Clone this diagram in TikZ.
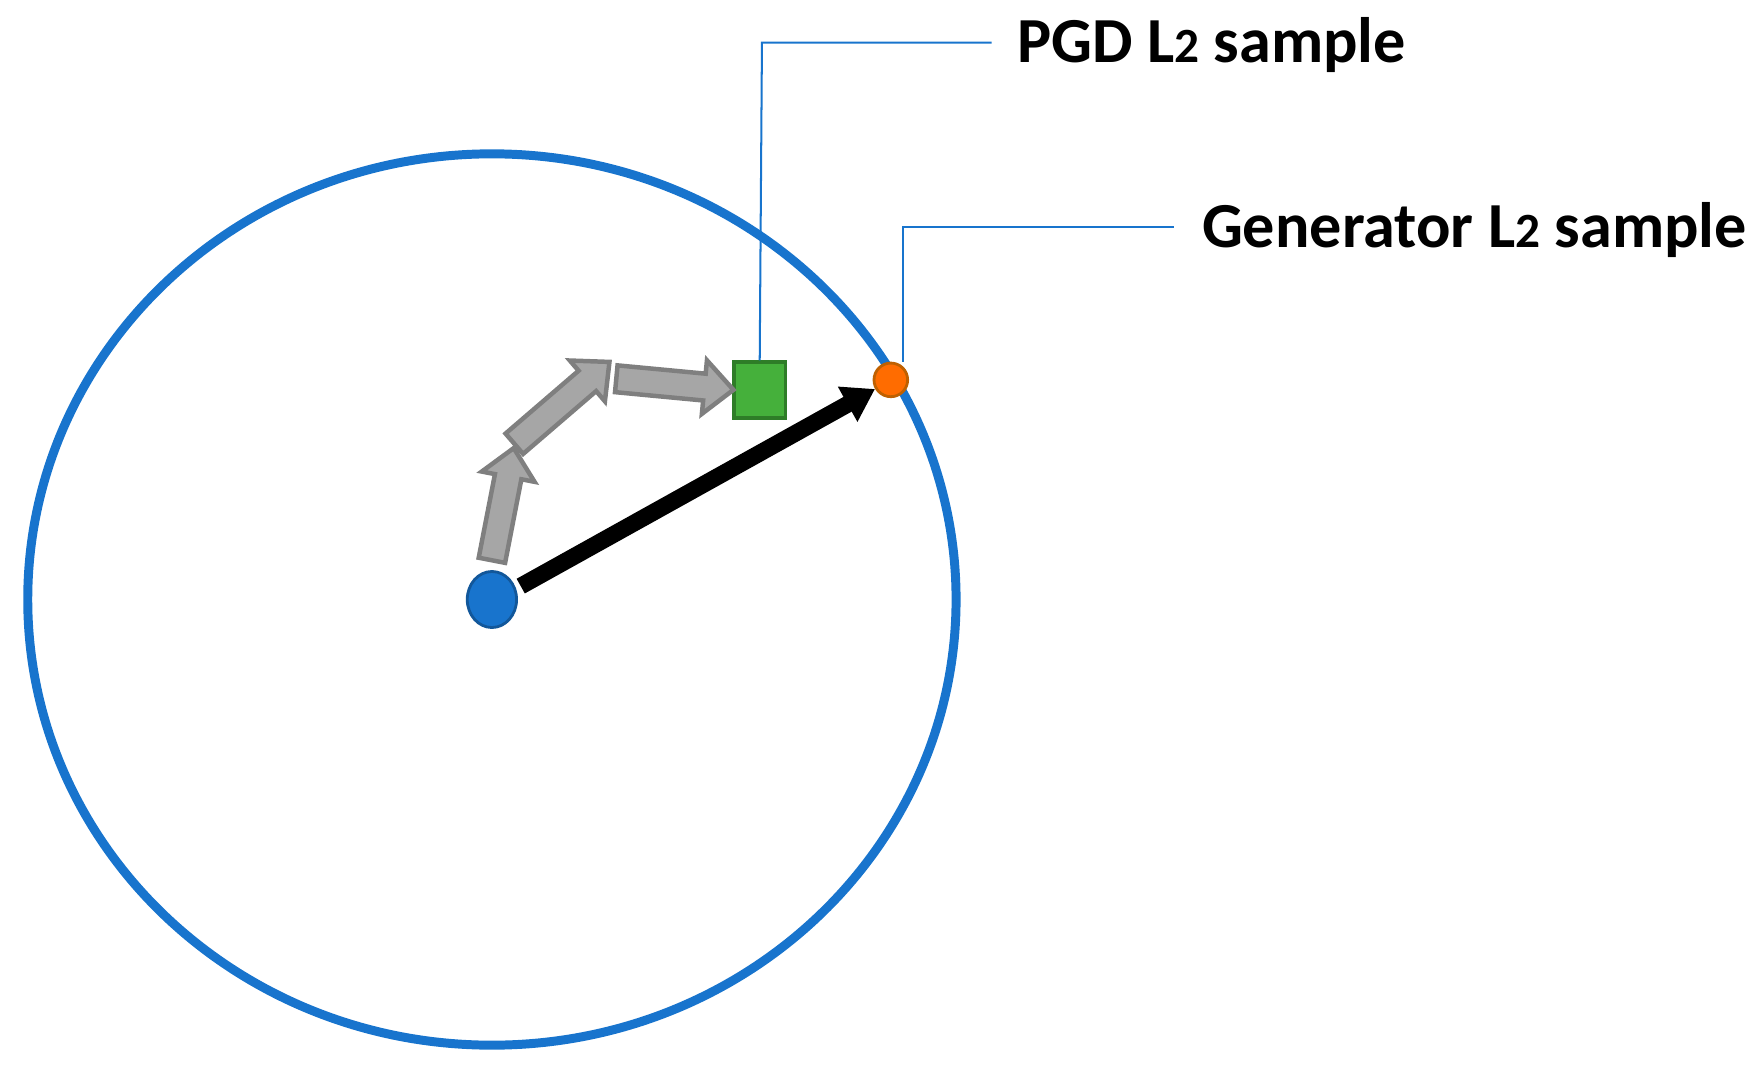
\documentclass[tikz,border=0pt]{standalone}
\usepackage{fontspec}
\setmainfont{Carlito}
\usetikzlibrary{shapes.geometric,arrows.meta}
\definecolor{cblue}{HTML}{1874CD}
\definecolor{gfill}{HTML}{A6A6A6}
\definecolor{gline}{HTML}{7F7F7F}
\definecolor{gsq}{HTML}{45B03B}
\definecolor{gsqd}{HTML}{2E7D27}
\tikzset{
 grayarrow/.style={draw=gline, fill=gfill, line width=0.04cm},
 callout/.style={draw=cblue, line width=0.018cm},
 lbl/.style={anchor=west, font=\bfseries\fontsize{16.3}{19}\selectfont, inner sep=0pt}
}
\newcommand{\Ltwo}{L{\fontsize{12.5}{14}\selectfont 2}}
\newcommand{\fatarrow}[4]{% x, y, angle, length
 \begin{scope}[shift={(#1,#2)}, rotate=#3]
 \draw[grayarrow] (0,-12) -- (#4-26,-12) -- (#4-26,-24) -- (#4,0) -- (#4-26,24) -- (#4-26,12) -- (0,12) -- cycle;
 \end{scope}}
\begin{document}
\begin{tikzpicture}[x=0.01cm,y=-0.01cm]
\useasboundingbox (0,0) rectangle (1568,956);
\node[draw=cblue, line width=0.08cm, ellipse, minimum width=8.28cm, minimum height=7.95cm, inner sep=0pt] (ring) at (439,535) {};
\node[draw=cblue!75!black, fill=cblue, line width=0.025cm, ellipse, minimum width=0.44cm, minimum height=0.5cm, inner sep=0pt] (origin) at (439,535) {};
\node[draw=orange!75!black, fill=orange!85!red, line width=0.025cm, circle, minimum size=0.3cm, inner sep=0pt] (gen) at (795,339) {};
\node[draw=gsqd, fill=gsq, line width=0.03cm, minimum width=0.46cm, minimum height=0.5cm, inner sep=0pt] (pgd) at (678,348) {};
\draw[line width=0.15cm, -{Triangle[length=0.28cm,width=0.34cm]}] (origin.30) ++(5,0) -- (gen.210);
\fatarrow{439}{500}{79}{102}
\fatarrow{459}{396}{40.7}{112}
\fatarrow{550}{338}{-5.4}{105}
\coordinate (p1) at (680,38);
\coordinate (p2) at (885,38);
\coordinate (g1) at (806,203);
\coordinate (g2) at (1048,203);
\node[lbl] (tpgd) at (907,40) {PGD \Ltwo{} sample};
\node[lbl] (tgen) at (1072,205) {Generator \Ltwo{} sample};
\draw[callout] (pgd.north) -- (p1) -- (p2);
\draw[callout] (gen.north -| g1) -- (g1) -- (g2);
\end{tikzpicture}
\end{document}
